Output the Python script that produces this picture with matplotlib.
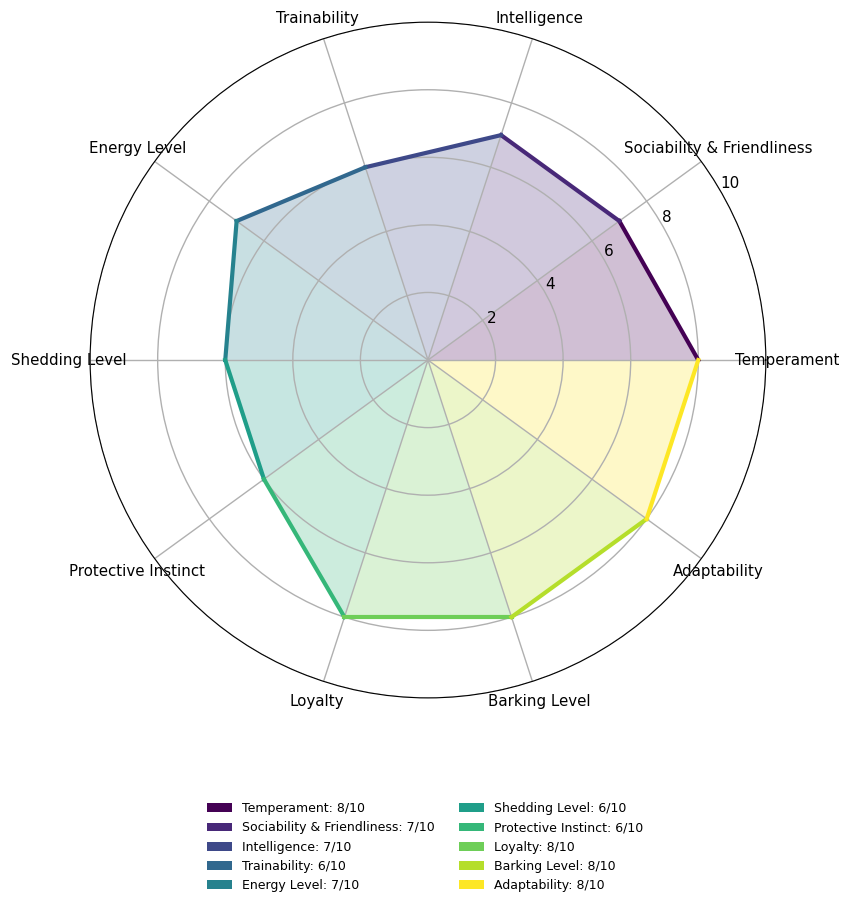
import numpy as np
import matplotlib
matplotlib.use("Agg")
import matplotlib.pyplot as plt
from matplotlib.patches import Patch

categories = ["Temperament", "Sociability & Friendliness", "Intelligence", "Trainability",
              "Energy Level", "Shedding Level", "Protective Instinct", "Loyalty",
              "Barking Level", "Adaptability"]
values = [8, 7, 7, 6, 7, 6, 6, 8, 8, 8]
rticks = [2, 4, 6, 8, 10]

n = len(categories)
angles = np.linspace(0, 2 * np.pi, n, endpoint=False)
colors = plt.cm.viridis(np.linspace(0, 1, n))

fig = plt.figure(figsize=(8.5, 9.06), dpi=100)
ax = fig.add_axes([0.106, 0.2296, 0.795, 0.746], projection="polar")

for i in range(n):
    j = (i + 1) % n
    th = [0, angles[i], angles[j] if j != 0 else 2 * np.pi, 0]
    rr = [0, values[i], values[j], 0]
    ax.fill(th, rr, color=colors[i], alpha=0.25, linewidth=0)
    ax.plot([angles[i], th[2]], [values[i], values[j]], color=colors[i], linewidth=3, zorder=3)

ax.set_ylim(0, 10)
ax.set_yticks(rticks)
ax.set_yticklabels([str(t) for t in rticks], fontsize=11)
ax.set_rlabel_position(30)
ax.set_xticks(angles)
ax.set_xticklabels(categories, fontsize=10.8)
ax.tick_params(axis="x", pad=5)
ax.grid(True, color="#b0b0b0", linewidth=1)

handles = [Patch(facecolor=colors[i], label=f"{categories[i]}: {values[i]}/10") for i in range(n)]
fig.legend(handles=handles, loc="lower center", bbox_to_anchor=(0.5, 0.003), ncol=2,
           frameon=False, fontsize=9)

fig.savefig("out.png", dpi=100)
